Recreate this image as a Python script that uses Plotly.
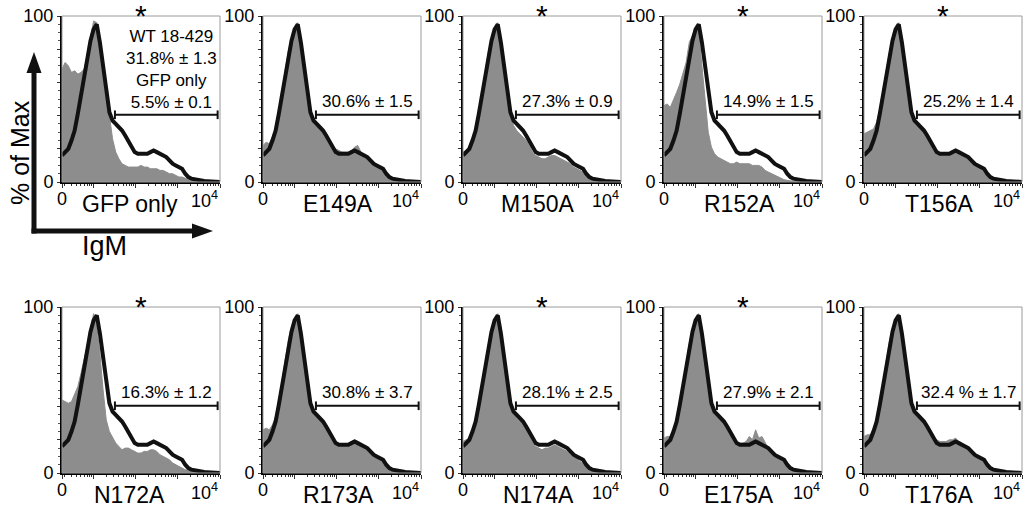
import math
import plotly.graph_objects as go

# ---------------- data ----------------
channel = [0, 2, 4, 6, 8, 10, 12, 14, 16, 18, 20, 22, 24, 26, 28, 30, 32, 34, 36, 38,
           40, 42, 44, 46, 48, 50, 52, 54, 56, 58, 60, 62, 64, 66, 68, 70, 72, 74, 76, 78,
           80, 82, 84, 86, 88, 90, 92, 94, 96, 98, 100]

wt_18_429 = [16, 18, 20, 25, 31, 41, 52, 65, 77, 85, 92, 95, 84, 68, 56, 42, 37, 35, 33, 31,
             28, 25, 21, 18, 17, 17, 17, 17, 18, 19, 18, 17, 16, 15, 13, 11, 10, 9, 8, 5,
             3, 2, 1.5, 1, 0.8, 0.6, 0.5, 0.4, 0.4, 0.3, 0]

gfp_only = [68, 72, 70, 66, 67, 65, 66, 68, 76, 86, 97, 96, 78, 66, 54, 40, 26, 18, 14, 11,
            10, 9, 9, 9, 9, 10, 9, 9, 8, 8, 8, 7, 7, 6, 5, 5, 4, 3, 3, 2,
            1.5, 1, 0.5, 0.3, 0.2, 0, 0, 0, 0, 0, 0]
e149a = [22, 24, 23, 27, 32, 42, 54, 66, 79, 86, 92, 96, 83, 67, 55, 44, 38, 36, 34, 31,
         28, 25, 22, 20, 19, 18, 18, 18, 19, 21, 22, 18, 16, 15, 13, 11, 10, 8, 7, 5,
         3, 2, 1.5, 1, 0.8, 0.6, 0.5, 0.4, 0.4, 0.3, 0]
m150a = [18, 19, 21, 26, 32, 42, 53, 66, 78, 86, 92, 96, 83, 66, 54, 41, 34, 31, 29, 27,
         25, 22, 18, 16, 15, 14, 14, 15, 16, 16, 15, 14, 13, 12, 11, 9, 8, 7, 6, 4,
         2.5, 1.5, 1, 0.8, 0.5, 0.4, 0.3, 0.3, 0.2, 0.2, 0]
r152a = [46, 47, 45, 49, 54, 59, 65, 72, 84, 89, 93, 90, 69, 50, 30, 21, 17, 15, 14, 13,
         12, 11, 11, 12, 11, 11, 11, 11, 10, 10, 10, 9, 7, 6, 5, 4, 3, 2, 1.4, 1,
         0.6, 0.4, 0.2, 0, 0, 0, 0, 0, 0, 0, 0]
t156a = [29, 30, 31, 32, 36, 44, 55, 66, 78, 86, 92, 96, 83, 67, 55, 42, 36, 34, 32, 30,
         27, 24, 21, 18, 17, 16, 16, 17, 18, 19, 18, 17, 16, 15, 13, 11, 10, 8, 7, 5,
         3, 2, 1.5, 1, 0.8, 0.6, 0.5, 0.4, 0.3, 0.2, 0]
n172a = [44, 43, 42, 43, 47, 52, 60, 68, 77, 86, 96, 88, 72, 50, 32, 25, 21, 18, 16, 14,
         15, 15, 14, 13, 12, 12, 13, 13, 14, 14, 13, 11, 10, 9, 8, 6, 5, 4, 3, 2,
         1.6, 1, 0.6, 0.3, 0.2, 0, 0, 0, 0, 0, 0]
r173a = [26, 27, 26, 29, 34, 44, 55, 68, 80, 88, 93, 96, 82, 66, 54, 42, 37, 35, 33, 31,
         28, 25, 21, 19, 18, 17, 17, 18, 19, 20, 19, 17, 16, 15, 13, 11, 10, 8, 7, 5,
         3, 2, 1.5, 1, 0.8, 0.6, 0.5, 0.4, 0.3, 0.2, 0]
n174a = [19, 20, 21, 25, 31, 41, 52, 65, 77, 85, 92, 96, 84, 67, 55, 42, 36, 33, 31, 29,
         26, 23, 19, 16, 15, 14, 15, 15, 16, 17, 16, 15, 14, 13, 11, 10, 9, 7, 6, 4,
         2.5, 1.5, 1, 0.8, 0.6, 0.5, 0.4, 0.3, 0.3, 0.2, 0]
e175a = [21, 22, 22, 26, 32, 42, 53, 66, 78, 86, 92, 96, 84, 67, 55, 42, 36, 34, 32, 30,
         27, 24, 21, 19, 18, 18, 19, 22, 20, 26, 21, 22, 18, 15, 13, 11, 10, 8, 7, 5,
         3, 2, 1.5, 1, 0.8, 0.6, 0.5, 0.4, 0.3, 0.2, 0]
t176a = [22, 23, 23, 27, 33, 43, 54, 67, 79, 87, 93, 96, 84, 68, 56, 44, 38, 36, 34, 31,
         28, 25, 22, 20, 19, 19, 19, 20, 20, 21, 19, 18, 16, 15, 13, 11, 10, 8, 7, 5,
         3, 2, 1.5, 1, 0.8, 0.6, 0.5, 0.4, 0.3, 0.2, 0]

panel_names = ["GFP only", "E149A", "M150A", "R152A", "T156A",
               "N172A", "R173A", "N174A", "E175A", "T176A"]
panel_series = [gfp_only, e149a, m150a, r152a, t156a,
                n172a, r173a, n174a, e175a, t176a]
gate_labels = ["WT 18-429<br>31.8% ± 1.3<br>GFP only<br>5.5% ± 0.1",
               "30.6% ± 1.5", "27.3% ± 0.9", "14.9% ± 1.5", "25.2% ± 1.4",
               "16.3% ± 1.2", "30.8% ± 3.7", "28.1% ± 2.5", "27.9% ± 2.1", "32.4 % ± 1.7"]
significant = [True, False, True, True, True,
               True, False, True, True, False]
gate_range = [33.5, 98.5]
gate_level = 40.5

# ---------------- layout helpers ----------------
W, H = 1035, 514
FONT = "Liberation Sans, Arial, Helvetica, sans-serif"


def px(x):
    return x / W


def py(y):
    return 1 - y / H


lefts = [62, 263, 463, 664, 864]
tops = [16, 307]
pw, ph = 158, 166

fig = go.Figure()
layout = dict(
    width=W, height=H,
    margin=dict(l=0, r=0, t=0, b=0, pad=0, autoexpand=False),
    paper_bgcolor="white", plot_bgcolor="white",
    showlegend=False,
    font=dict(family=FONT, color="black", size=18),
)
annotations = []
shapes = []

# log-like tick positions of the IgM axis (decades at equal spacing)
dec = 80 / 3.0
decades = [100 - 3 * dec, 100 - 2 * dec, 100 - dec, 100]
minor_ticks = []
for d0 in [decades[0] - dec] + decades[:-1]:
    for k in range(2, 10):
        v = d0 + math.log10(k) * dec
        if 1 < v < 100:
            minor_ticks.append(v)

for i, (name, vals) in enumerate(zip(panel_names, panel_series)):
    row, col = divmod(i, 5)
    x0p, y0p = lefts[col], tops[row]
    sfx = "" if i == 0 else str(i + 1)
    xa, ya = "x" + sfx, "y" + sfx

    fig.add_trace(go.Scatter(x=channel, y=vals, mode="lines", fill="tozeroy",
                             line=dict(color="#8d8d8d", width=1),
                             fillcolor="#8d8d8d", xaxis=xa, yaxis=ya,
                             hoverinfo="skip"))
    fig.add_trace(go.Scatter(x=channel, y=wt_18_429, mode="lines",
                             line=dict(color="#111111", width=4),
                             xaxis=xa, yaxis=ya, hoverinfo="skip"))
    cap = 2.6
    glo, ghi = gate_range
    fig.add_trace(go.Scatter(
        x=[glo, glo, None, glo, ghi, None, ghi, ghi],
        y=[gate_level - cap, gate_level + cap, None, gate_level, gate_level, None,
           gate_level - cap, gate_level + cap],
        mode="lines", line=dict(color="#111111", width=2),
        xaxis=xa, yaxis=ya, hoverinfo="skip"))

    layout["xaxis" + sfx] = dict(
        domain=[px(x0p), px(x0p + pw)], anchor=ya, range=[0, 100],
        showgrid=False, zeroline=False, showline=True, linecolor="black", linewidth=2,
        ticks="outside", ticklen=4, tickwidth=1, tickcolor="#333",
        tickvals=[0] + decades, showticklabels=False,
        minor=dict(tickvals=minor_ticks, ticks="outside", ticklen=2, tickcolor="#333",
                   tickwidth=1),
        fixedrange=True)
    layout["yaxis" + sfx] = dict(
        domain=[py(y0p + ph), py(y0p)], anchor=xa, range=[0, 100],
        showgrid=False, zeroline=False, showline=True, linecolor="black", linewidth=2,
        ticks="outside", ticklen=3, tickwidth=1, tickcolor="#333",
        tickvals=[0, 20, 40, 60, 80, 100], ticktext=["0", "", "", "", "", "100"],
        tickfont=dict(size=18, family=FONT),
        minor=dict(dtick=5, ticks="outside", ticklen=2, tickcolor="#555", tickwidth=1),
        fixedrange=True)

    shapes.append(dict(type="rect", xref=xa + " domain", yref=ya + " domain",
                       x0=0, x1=1, y0=0, y1=1, line=dict(color="#9a9a9a", width=1),
                       layer="above"))

    # tick labels 0 and 10^4
    annotations.append(dict(text="0", xref=xa, x=0, yref="paper", y=py(y0p + ph + 17),
                            showarrow=False, xanchor="center", yanchor="middle",
                            font=dict(size=18)))
    annotations.append(dict(text="10<sup>4</sup>", xref=xa, x=100, yref="paper",
                            y=py(y0p + ph + 18), showarrow=False, xanchor="right",
                            yanchor="middle", font=dict(size=18)))
    # panel name
    annotations.append(dict(text=name, xref=xa + " domain", x=0.43 if col == 0 else 0.475,
                            yref="paper", y=py(y0p + ph + 22), showarrow=False,
                            xanchor="center", yanchor="middle", font=dict(size=23)))
    # gate text
    if i == 0:
        annotations.append(dict(text=gate_labels[i], xref=xa, x=69, yref=ya, y=68,
                                showarrow=False, xanchor="center", yanchor="middle",
                                align="center", font=dict(size=17)))
    else:
        annotations.append(dict(text=gate_labels[i], xref=xa, x=66, yref=ya, y=48.5,
                                showarrow=False, xanchor="center", yanchor="middle",
                                font=dict(size=17)))
    if significant[i]:
        annotations.append(dict(text="*", xref=xa + " domain", x=0.5, yref="paper",
                                y=py(y0p - 1), showarrow=False, xanchor="center",
                                yanchor="middle", font=dict(size=30)))

# axis legend arrows (decoration)
shapes.append(dict(type="rect", xref="paper", yref="paper",
                   x0=px(31.5), x1=px(36.5), y0=py(233.5), y1=py(70),
                   fillcolor="#111", line=dict(width=0)))
shapes.append(dict(type="path", xref="paper", yref="paper",
                   path="M %f,%f L %f,%f L %f,%f Z" % (px(26.5), py(73), px(41.5), py(73),
                                                      px(34), py(52)),
                   fillcolor="#111", line=dict(width=0)))
shapes.append(dict(type="rect", xref="paper", yref="paper",
                   x0=px(31.5), x1=px(195), y0=py(233.5), y1=py(228.5),
                   fillcolor="#111", line=dict(width=0)))
shapes.append(dict(type="path", xref="paper", yref="paper",
                   path="M %f,%f L %f,%f L %f,%f Z" % (px(192), py(223.5), px(192), py(238.5),
                                                      px(213), py(231)),
                   fillcolor="#111", line=dict(width=0)))

annotations.append(dict(text="% of Max", xref="paper", yref="paper", x=px(20), y=py(153),
                        showarrow=False, textangle=-90, xanchor="center", yanchor="middle",
                        font=dict(size=25)))
annotations.append(dict(text="IgM", xref="paper", yref="paper", x=px(104), y=py(246),
                        showarrow=False, xanchor="center", yanchor="middle",
                        font=dict(size=27)))

layout["annotations"] = annotations
layout["shapes"] = shapes
fig.update_layout(**layout)
fig.write_html("out.html", config={"displayModeBar": False},
               post_script="document.body.style.margin='0';document.body.style.overflow='hidden';")
